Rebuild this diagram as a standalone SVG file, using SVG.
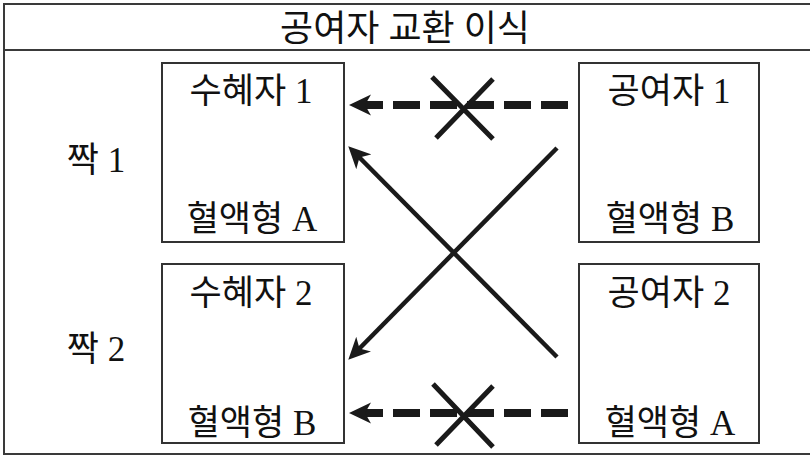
<svg xmlns="http://www.w3.org/2000/svg" width="810" height="457" viewBox="0 0 810 457">
<style>
  .frame { fill: none; stroke: #3a3a3a; stroke-width: 2; }
  .box { fill: #fff; stroke: #333; stroke-width: 2; }
  .t { font-family: "Liberation Serif", "Noto Sans CJK KR", serif; font-size: 35px; fill: #111; text-anchor: middle; }
  .dash { fill: none; stroke: #1a1a1a; stroke-width: 8; stroke-dasharray: 27 10; }
  .diag { fill: none; stroke: #1a1a1a; stroke-width: 4.5; }
  .cross { fill: none; stroke: #1a1a1a; stroke-width: 5; }
</style>
<defs>
  <marker id="ah" markerUnits="userSpaceOnUse" viewBox="0 0 22 22" markerWidth="22" markerHeight="22" refX="11" refY="11" orient="auto">
    <path d="M22,11 L0,0.5 L6,11 L0,21.5 Z" fill="#1a1a1a"/>
  </marker>
</defs>
<rect width="810" height="457" fill="#fff"/>
<g id="frame">
  <path class="frame" d="M810,4 H4 V454 H810 M4,50 H810"/>
  <text class="t" x="405" y="41" style="font-size:36px">공여자 교환 이식</text>
</g>
<g id="pair1-label"><text class="t" x="96" y="172">짝 1</text></g>
<g id="pair2-label"><text class="t" x="96" y="361">짝 2</text></g>
<g id="recipient1">
  <rect class="box" x="162" y="63" width="182" height="179"/>
  <text class="t" x="251" y="103">수혜자 1</text>
  <text class="t" x="252" y="231">혈액형 A</text>
</g>
<g id="donor1">
  <rect class="box" x="579" y="63" width="180" height="179"/>
  <text class="t" x="669" y="103">공여자 1</text>
  <text class="t" x="670" y="231">혈액형 B</text>
</g>
<g id="recipient2">
  <rect class="box" x="162" y="264" width="182" height="179"/>
  <text class="t" x="251" y="305">수혜자 2</text>
  <text class="t" x="252" y="435">혈액형 B</text>
</g>
<g id="donor2">
  <rect class="box" x="579" y="264" width="180" height="179"/>
  <text class="t" x="669" y="305">공여자 2</text>
  <text class="t" x="670" y="435">혈액형 A</text>
</g>
<g id="connectors">
  <path class="dash" d="M568,105 H360" marker-end="url(#ah)"/>
  <path class="dash" d="M568,413 H360" marker-end="url(#ah)"/>
  <path class="diag" d="M557,357 L356,154" marker-end="url(#ah)"/>
  <path class="diag" d="M557,148 L356,352" marker-end="url(#ah)"/>
  <path class="cross" d="M432,77 L493,139 M493,79 L436,138"/>
  <path class="cross" d="M433,384 L493,447 M493,386 L436,445"/>
</g>
</svg>
